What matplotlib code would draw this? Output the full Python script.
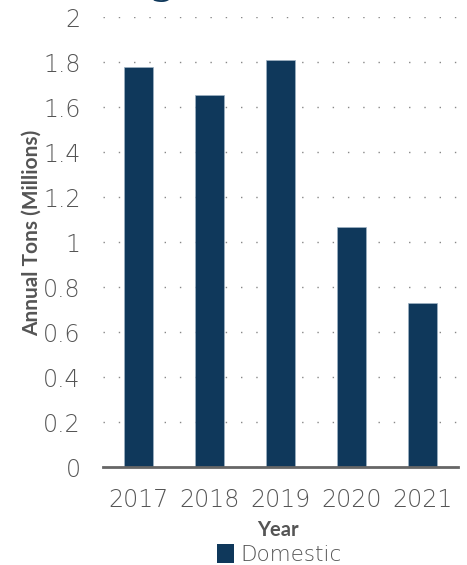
import matplotlib
matplotlib.use('Agg')
import matplotlib.pyplot as plt
from matplotlib.patches import Patch

plt.rcParams['font.family'] = ['Lato', 'DejaVu Sans']

years = ['2017', '2018', '2019', '2020', '2021']
domestic = [1.78, 1.655, 1.81, 1.07, 0.73]
y_ticks = [0, 0.2, 0.4, 0.6, 0.8, 1, 1.2, 1.4, 1.6, 1.8, 2]
y_tick_labels = ['0', '0.2', '0.4', '0.6', '0.8', '1', '1.2', '1.4', '1.6', '1.8', '2']

navy = '#0f385b'
gray = '#555555'
light_font = dict(family='DejaVu Sans', weight=200)

fig = plt.figure(figsize=(4.67, 5.65), dpi=100)
ax = fig.add_axes([0.2206, 0.173, 0.760, 0.7964])

ax.bar(range(len(years)), domestic, width=0.4, color=navy,
       edgecolor='#9fb2c4', linewidth=0.5, zorder=3)

ax.set_xlim(-0.5, 4.5)
ax.set_ylim(0, 2)
ax.set_yticks(y_ticks)
ax.set_yticklabels(y_tick_labels, fontdict=light_font)
ax.set_xticks(range(len(years)))
ax.set_xticklabels(years, fontdict=light_font)

ax.tick_params(axis='both', length=0, labelsize=17, labelcolor=gray)
ax.tick_params(axis='y', pad=16)
ax.tick_params(axis='x', pad=15)

# 点状网格线
ax.yaxis.grid(True, linestyle=(0, (1, 10)), color='#888888', linewidth=1.0, zorder=0)
ax.set_axisbelow(True)

for s in ['top', 'right', 'left']:
    ax.spines[s].set_visible(False)
ax.spines['bottom'].set_color('#666666')
ax.spines['bottom'].set_linewidth(2)
ax.spines['bottom'].set_zorder(4)

ax.set_ylabel('Annual Tons (Millions)', fontsize=15, fontweight='bold', color=gray)
ax.yaxis.set_label_coords(-0.172, 0.52)
ax.set_xlabel('Year', fontsize=14.5, fontweight='bold', color=gray, labelpad=0)
ax.xaxis.set_label_coords(0.493, -0.118)

leg = ax.legend(handles=[Patch(facecolor=navy, label='Domestic')],
                loc='center', bbox_to_anchor=(0.497, -0.194),
                frameon=False, handlelength=0.75, handleheight=0.95,
                handletextpad=0.3, borderpad=0,
                prop=dict(family='DejaVu Sans', weight=200, size=15.5))
for t in leg.get_texts():
    t.set_color(gray)

# 被裁切的标题残留
fig.text(161 / 467, 1 + 7 / 565, 'g', fontsize=34, color=navy,
         ha='center', va='baseline', fontdict=light_font)

fig.savefig('out.png', dpi=100)
